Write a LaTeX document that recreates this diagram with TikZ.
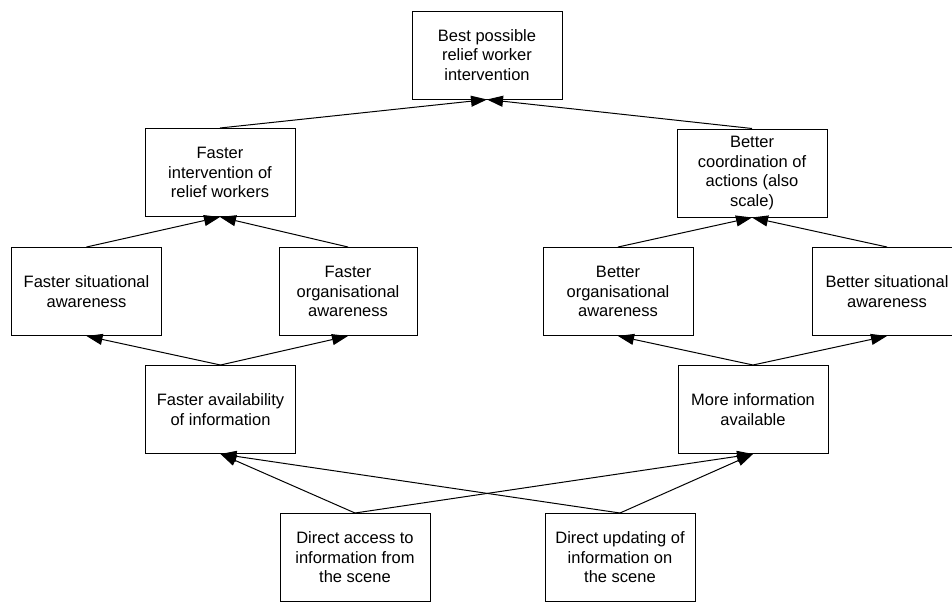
\documentclass[tikz,border=0pt]{standalone}
\usepackage{fontspec}
\setmainfont{Liberation Sans}
\usepackage{tikz}
\usetikzlibrary{arrows.meta}
\usetikzlibrary{positioning}

\tikzset{
  goal/.style={draw, line width=1pt, minimum width=150pt, minimum height=88pt,
    align=center, inner sep=2pt, font=\fontsize{16.5}{19.5}\selectfont},
  link/.style={line width=1pt, -{Triangle[length=16pt,width=11pt]}},
}

\begin{document}
\begin{tikzpicture}[x=1pt,y=-1pt]
        \useasboundingbox (0,0) rectangle (952,603);
        \clip (0,0) rectangle (952,603);
        % top goal
        \node[goal] (best) at (487,55) {Best possible\\relief worker\\intervention};
        % second row
        \node[goal] (fint)   at (220,172.5) {Faster\\intervention of\\relief workers};
        \node[goal] (bcoord) at (752,173)   {Better\\coordination of\\actions (also\\scale)};
        % awareness row
        \node[goal] (fsit) at (86.5,291.5) {Faster situational\\awareness};
        \node[goal, minimum width=138pt] (forg) at (348,291.5) {Faster\\organisational\\awareness};
        \node[goal] (borg) at (618,291.5) {Better\\organisational\\awareness};
        \node[goal] (bsit) at (887,291.5) {Better situational\\awareness};
        % information row
        \node[goal] (favail) at (220.5,409.5) {Faster availability\\of information};
        \node[goal] (minfo)  at (753,409.5)   {More information\\available};
        % means
        \node[goal] (dacc) at (355,557.5) {Direct access to\\information from\\the scene};
        \node[goal, right=114pt of dacc] (dupd) {Direct updating of\\information on\\the scene};

        \draw[link] (fint.north) -- (best.south);
        \draw[link] (bcoord.north) -- (best.south);
        \draw[link] (fsit.north) -- (fint.south);
        \draw[link] (forg.north) -- (fint.south);
        \draw[link] (borg.north) -- (bcoord.south);
        \draw[link] (bsit.north) -- (bcoord.south);
        \draw[link] (favail.north) -- (fsit.south);
        \draw[link] (favail.north) -- (forg.south);
        \draw[link] (minfo.north) -- (borg.south);
        \draw[link] (minfo.north) -- (bsit.south);
        \draw[link] (dacc.north) -- (favail.south);
        \draw[link] (dacc.north) -- (minfo.south);
        \draw[link] (dupd.north) -- (favail.south);
        \draw[link] (dupd.north) -- (minfo.south);
\end{tikzpicture}
\end{document}
